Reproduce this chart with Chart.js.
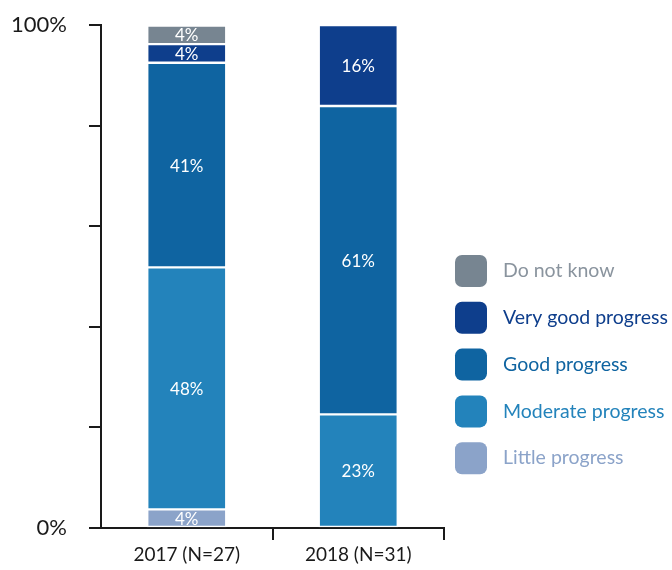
<!DOCTYPE html>
<html>
<head>
<meta charset="utf-8">
<script src="https://cdn.jsdelivr.net/npm/chart.js@4"></script>
<style>
html,body{margin:0;padding:0;background:#fff;}
#wrap{width:672px;height:570px;}
</style>
</head>
<body>
<div id="wrap"><canvas id="c" width="672" height="570"></canvas></div>
<script>
const categories = ['2017 (N=27)', '2018 (N=31)'];
const seriesNames = ['Little progress', 'Moderate progress', 'Good progress', 'Very good progress', 'Do not know'];
const littleProgress = [3.7, 0];
const moderateProgress = [48.1, 22.6];
const goodProgress = [40.7, 61.3];
const veryGoodProgress = [3.7, 16.1];
const doNotKnow = [3.7, 0];
const yTickLabels = {0: '0%', 100: '100%'};

const seriesValues = [littleProgress, moderateProgress, goodProgress, veryGoodProgress, doNotKnow];
const seriesColors = ['#8ba3c9', '#2383bb', '#0f64a1', '#0e3e8c', '#778591'];
const textColors = ['#8ba3c9', '#2383bb', '#0f64a1', '#0e3e8c', '#8a949e'];
const FONT = 'Lato, "Open Sans", sans-serif';
const AXIS = '#1a1a1a';

const datasets = seriesNames.map((name, i) => ({
  label: name,
  data: seriesValues[i],
  backgroundColor: seriesColors[i],
  borderColor: '#ffffff',
  borderWidth: 1.5,
  borderSkipped: false,
  barThickness: 79
}));

const valueLabels = {
  id: 'valueLabels',
  afterDatasetsDraw(chart) {
    const ctx = chart.ctx;
    ctx.save();
    ctx.fillStyle = '#ffffff';
    ctx.font = '17px ' + FONT;
    ctx.textAlign = 'center';
    ctx.textBaseline = 'middle';
    chart.data.datasets.forEach((ds, i) => {
      const meta = chart.getDatasetMeta(i);
      meta.data.forEach((el, j) => {
        const v = ds.data[j];
        if (!v) return;
        ctx.fillText(Math.round(v) + '%', el.x, (el.y + el.base) / 2 + 1);
      });
    });
    ctx.restore();
  }
};

const sideLegend = {
  id: 'sideLegend',
  afterDraw(chart) {
    const ctx = chart.ctx;
    const ds = chart.data.datasets;
    const n = ds.length;
    const x0 = chart.chartArea.right + 11;
    const yTop = 255;
    const step = 46.8;
    const box = 32;
    ctx.save();
    ctx.font = '19.5px ' + FONT;
    ctx.textBaseline = 'middle';
    ctx.textAlign = 'left';
    for (let k = 0; k < n; k++) {
      const i = n - 1 - k;
      const y = yTop + k * step;
      ctx.fillStyle = ds[i].backgroundColor;
      ctx.beginPath();
      ctx.roundRect(x0, y, box, box, 7);
      ctx.fill();
      ctx.fillStyle = textColors[i];
      ctx.fillText(ds[i].label, x0 + box + 16, y + box / 2);
    }
    ctx.restore();
  }
};

new Chart(document.getElementById('c'), {
  type: 'bar',
  data: { labels: categories, datasets },
  options: {
    responsive: false,
    animation: false,
    layout: { padding: { left: 0, top: 25, right: 228, bottom: 0 } },
    plugins: { legend: { display: false }, tooltip: { enabled: false } },
    scales: {
      x: {
        stacked: true,
        grid: {
          offset: true,
          drawOnChartArea: false,
          drawTicks: true,
          tickLength: 12,
          lineWidth: 2,
          color: (c) => c.index === 0 ? 'rgba(0,0,0,0)' : AXIS
        },
        border: { color: AXIS, width: 2 },
        ticks: { font: { family: FONT, size: 19 }, color: AXIS, padding: 3 },
        afterFit: (s) => { s.height = 42; }
      },
      y: {
        stacked: true,
        min: 0,
        max: 100,
        grid: { drawOnChartArea: false, drawTicks: true, tickLength: 12, lineWidth: 2, color: AXIS },
        border: { color: AXIS, width: 2 },
        ticks: {
          stepSize: 20,
          font: { family: FONT, size: 22, lineHeight: 0.2 },
          color: AXIS,
          padding: 22,
          callback: (v) => (yTickLabels[v] !== undefined ? yTickLabels[v] : '')
        },
        afterFit: (s) => { s.width = 101; }
      }
    }
  },
  plugins: [valueLabels, sideLegend]
});
</script>
</body>
</html>
